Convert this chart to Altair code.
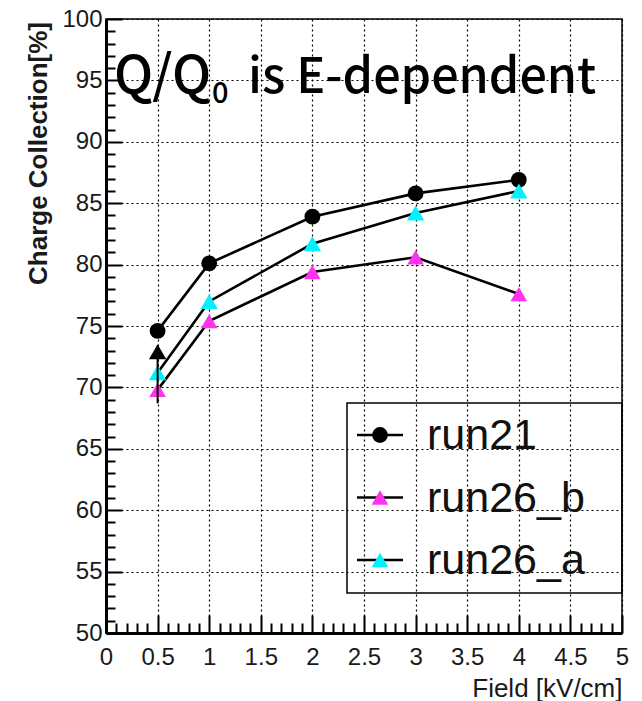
import altair as alt
import pandas as pd

# ---------------- data ----------------
field = [0.5, 1, 2, 3, 4]
run21 = [74.6, 80.1, 83.9, 85.8, 86.9]
run26_b = [69.8, 75.4, 79.4, 80.6, 77.6]
run26_a = [71.2, 77.0, 81.7, 84.2, 86.0]

extra_field = [0.5]
extra_value = [72.9]
extra_low = [68.7]

series_names = ["run21", "run26_b", "run26_a"]
series_colors = ["#000000", "#ff33ee", "#00f2ff"]
series_shapes = ["circle", "triangle-up", "triangle-up"]

x_major = [0, 0.5, 1, 1.5, 2, 2.5, 3, 3.5, 4, 4.5, 5]
x_minor = [i / 10 for i in range(51) if i % 5]
y_major = [50, 55, 60, 65, 70, 75, 80, 85, 90, 95, 100]
y_minor = [v for v in range(50, 101) if v % 5]

title_parts = ["Q/Q", "0", "is E-dependent"]
x_title = "Field [kV/cm]"
y_title = "Charge Collection[%]"

# ---------------- layout ----------------
W, H = 516, 614
FONT = "Liberation Sans"
TFONT = "Noto Sans CJK JP"

rows = []
for name, vals in zip(series_names, [run21, run26_b, run26_a]):
    for f, v in zip(field, vals):
        rows.append({"series": name, "field": f, "value": v})
df = pd.DataFrame(rows)
df_extra = pd.DataFrame({"field": extra_field, "value": extra_value, "low": extra_low})

xs = alt.Scale(domain=[0, 5], nice=False, zero=False)
ys = alt.Scale(domain=[50, 100], nice=False, zero=False)

x_axis = alt.Axis(
    orient="bottom", values=x_major, format="~g", grid=True, gridDash=[2, 3],
    gridColor="#000", gridWidth=1.2, tickSize=0, domainWidth=3, domainColor="#000",
    labelFont=FONT, labelFontSize=24, labelPadding=12, labelColor="#1a1a1a",
    title=x_title, titleFont=FONT, titleFontSize=26, titleFontWeight="normal",
    titleColor="#1a1a1a", titleX=W, titleY=63, titleAlign="right",
    titleBaseline="alphabetic", labelFlush=False, labelOverlap=False,
)
y_axis = alt.Axis(
    orient="left", values=y_major, grid=True, gridDash=[2, 3],
    gridColor="#000", gridWidth=1.2, tickSize=0, domainWidth=3, domainColor="#000",
    labelFont=FONT, labelFontSize=24, labelPadding=4, labelColor="#1a1a1a",
    title=y_title, titleFont=FONT, titleFontSize=26, titleFontWeight="bold",
    titleColor="#1a1a1a", titleAngle=270, titleX=-68, titleY=134,
    titleAlign="center", titleBaseline="middle", labelFlush=False, labelOverlap=False,
)

X = alt.X("field:Q", scale=xs, axis=x_axis)
Y = alt.Y("value:Q", scale=ys, axis=y_axis)

lines = alt.Chart(df).mark_line(color="black", strokeWidth=2.6).encode(
    x=X, y=Y, detail="series:N"
)
points = alt.Chart(df).mark_point(filled=True, opacity=1).encode(
    x=X, y=Y,
    color=alt.Color("series:N", scale=alt.Scale(domain=series_names, range=series_colors), legend=None),
    shape=alt.Shape("series:N", scale=alt.Scale(domain=series_names, range=series_shapes), legend=None),
    size=alt.Size("series:N", scale=alt.Scale(domain=series_names, range=[250, 300, 300]), legend=None),
)
extra_pt = alt.Chart(df_extra).mark_point(filled=True, opacity=1, size=300, shape="triangle-up", color="black").encode(
    x=X, y=Y
)
extra_bar = alt.Chart(df_extra).mark_rule(color="black", strokeWidth=2).encode(
    x=X, y=Y, y2="low:Q"
)
main = alt.layer(lines, points, extra_pt, extra_bar)


def tick_layer(xv, yv, xlen, ylen):
    return alt.Chart(df).mark_point(opacity=0).encode(
        x=alt.X("field:Q", scale=xs, axis=alt.Axis(
            orient="top", offset=-H, values=xv, tickSize=xlen, tickWidth=2,
            tickColor="#000", labels=False, domain=False, grid=False, title=None)),
        y=alt.Y("value:Q", scale=ys, axis=alt.Axis(
            orient="right", offset=-W, values=yv, tickSize=ylen, tickWidth=2,
            tickColor="#000", labels=False, domain=False, grid=False, title=None)),
    )


major_ticks = tick_layer(x_major, y_major, 18, 16)
minor_ticks = tick_layer(x_minor, y_minor, 10, 9)

# ---------------- title text ----------------
def text_at(s, x, y, size, font=TFONT, weight="normal", align="left"):
    return alt.Chart(pd.DataFrame({"t": [s]})).mark_text(
        font=font, fontSize=size, fontWeight=weight, align=align,
        baseline="alphabetic", color="black"
    ).encode(text="t:N", x=alt.value(x), y=alt.value(y))


title_layers = [
    text_at(title_parts[0], 8, 74, 52, weight=500),
    text_at(title_parts[1], 106, 84, 29, weight=500),
    text_at(title_parts[2], 142, 74, 48.5, weight=500),
]

# ---------------- legend ----------------
leg_box = alt.Chart(pd.DataFrame({"a": [0]})).mark_rect(
    fillOpacity=0, stroke="black", strokeWidth=1.5
).encode(x=alt.value(241), x2=alt.value(516), y=alt.value(384), y2=alt.value(574))

legend_layers = [leg_box]
for i, (name, col, shp) in enumerate(zip(series_names, series_colors, series_shapes)):
    ry = 416 + 62.5 * i
    d = pd.DataFrame({"t": [name]})
    legend_layers.append(
        alt.Chart(d).mark_rule(color="black", strokeWidth=2.6).encode(
            x=alt.value(251), x2=alt.value(297), y=alt.value(ry))
    )
    legend_layers.append(
        alt.Chart(d).mark_point(filled=True, opacity=1, size=250 if shp == "circle" else 280,
                                shape=shp, color=col).encode(
            x=alt.value(274), y=alt.value(ry))
    )
    legend_layers.append(
        alt.Chart(d).mark_text(font=FONT, fontSize=43, align="left", baseline="alphabetic",
                               color="#111").encode(
            text="t:N", x=alt.value(321), y=alt.value(ry + 14))
    )

chart = alt.layer(
    main, major_ticks, minor_ticks, *title_layers, *legend_layers
).resolve_scale(x="independent", y="independent").resolve_axis(
    x="independent", y="independent"
).properties(
    width=W, height=H,
    autosize=alt.AutoSizeParams(type="none"),
    padding={"left": 106, "top": 19, "right": 20, "bottom": 68},
    background="white",
).configure_view(stroke="#000", strokeWidth=1.5)

chart.save("out.html", embed_options={"renderer": "svg", "actions": False})
